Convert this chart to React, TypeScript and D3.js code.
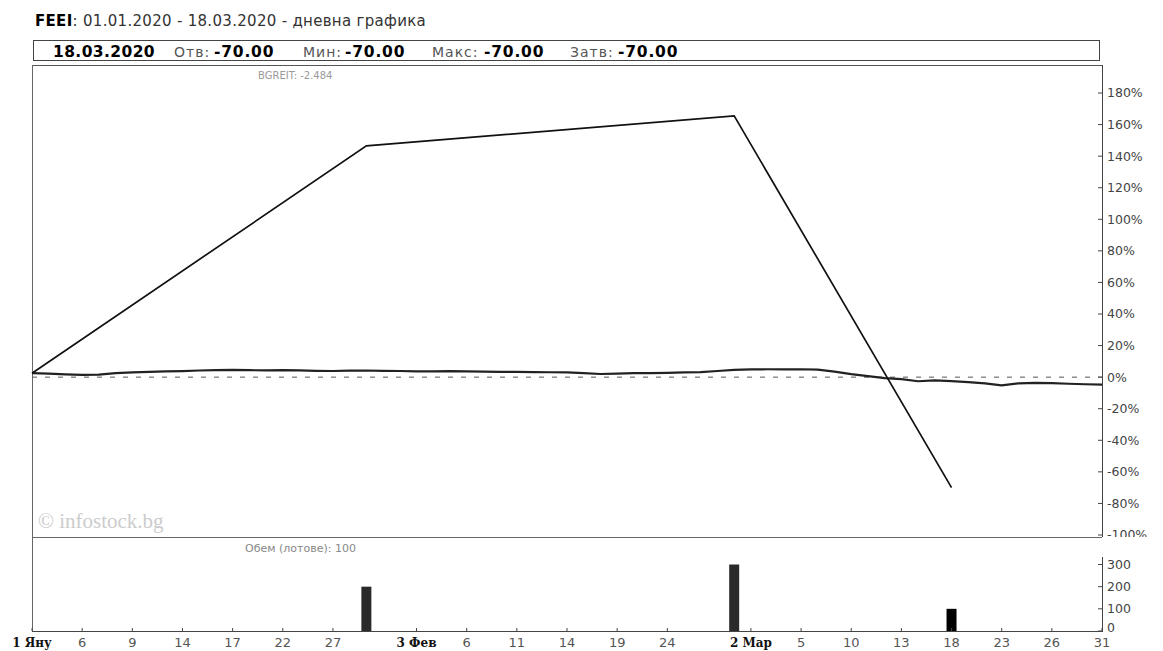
import * as d3 from 'd3';

// trading days (Jan 1 .. Mar 31 2020)
const janDays = [1, 2, 3, 6, 7, 8, 9, 10, 13, 14, 15, 16, 17, 20, 21, 22, 23, 24, 27, 28, 29, 30, 31];
const febDays = [3, 4, 5, 6, 7, 10, 11, 12, 13, 14, 17, 18, 19, 20, 21, 24, 25, 26, 27, 28];
const marDays = [2, 3, 4, 5, 6, 9, 10, 11, 12, 13, 16, 17, 18, 19, 20, 23, 24, 25, 26, 27, 30, 31];

const days: string[] = [
  ...janDays.map(d => `01-${d}`),
  ...febDays.map(d => `02-${d}`),
  ...marDays.map(d => `03-${d}`),
];

// FEEI, % change
const feeiDates = ['01-1', '01-29', '02-28', '03-18'];
const feeiValues = [2.5, 146.5, 165.5, -70];

// BGREIT index, % change (one value per trading day)
const indexValues = [
  2.5, 2.2, 1.8, 1.5, 1.6, 2.6, 3.0, 3.3, 3.6, 3.8, 4.2, 4.5, 4.6, 4.4, 4.3, 4.5, 4.3, 4.0, 3.9, 4.1,
  4.2, 4.0, 3.9, 3.7, 3.6, 3.8, 3.6, 3.5, 3.3, 3.4, 3.2, 3.1, 3.0, 2.6, 2.0, 2.2, 2.6, 2.5, 2.7, 3.0,
  3.2, 3.9, 4.6, 4.9, 5.0, 4.9, 5.0, 4.8, 3.5, 1.9, 0.6, -0.6, -1.2, -2.6, -2.0, -2.5, -3.2, -4.0, -5.2, -3.9,
  -3.6, -3.8, -4.2, -4.5, -4.7,
];

// volume (lots)
const volDates = ['01-29', '02-28', '03-18'];
const volValues = [200, 300, 100];

const tickDates = ['01-1', '01-6', '01-9', '01-14', '01-17', '01-22', '01-27', '02-3', '02-6', '02-11', '02-14', '02-19', '02-24', '03-2', '03-5', '03-10', '03-13', '03-18', '03-23', '03-26', '03-31'];
const tickLabels = ['1 Яну', '6', '9', '14', '17', '22', '27', '3 Фев', '6', '11', '14', '19', '24', '2 Мар', '5', '10', '13', '18', '23', '26', '31'];

const pctTicks = [180, 160, 140, 120, 100, 80, 60, 40, 20, 0, -20, -40, -60, -80, -100];
const volTicks = [0, 100, 200, 300];

const W = 1163;
const H = 651;
const left = 32;
const right = 1102;
const mainTop = 65;
const mainBottom = 537;
const volBottom = 631;

const sans = 'DejaVu Sans, sans-serif';

export default function App() {
  const x = d3.scalePoint<string>().domain(days).range([left, right]);
  const y = d3.scaleLinear().domain([-100, 180]).range([535, 93]);
  const yv = d3.scaleLinear().domain([0, 300]).range([volBottom, 564.5]);

  const line = d3.line<[string, number]>()
    .x(d => x(d[0]) as number)
    .y(d => y(d[1]));

  const feeiPts = feeiDates.map((d, i) => [d, feeiValues[i]] as [string, number]);
  const indexPts = days.map((d, i) => [d, indexValues[i]] as [string, number]);

  const hdr = [
    { t: '18.03.2020', x: 53, b: true },
    { t: 'Отв:', x: 174, b: false },
    { t: '-70.00', x: 214, b: true },
    { t: 'Мин:', x: 303, b: false },
    { t: '-70.00', x: 345, b: true },
    { t: 'Макс:', x: 432, b: false },
    { t: '-70.00', x: 484, b: true },
    { t: 'Затв:', x: 570, b: false },
    { t: '-70.00', x: 618, b: true },
  ];

  return (
    <svg width={W} height={H} style={{ position: 'absolute', left: 0, top: 0, background: '#fff' }}>
      <defs>
        <clipPath id="mainClip">
          <rect x={0} y={mainTop} width={W} height={mainBottom - mainTop} />
        </clipPath>
      </defs>

      {/* title */}
      <text x={35} y={26} fontFamily={sans} fontSize={15} letterSpacing={0.3} fill="#333">
        <tspan fontWeight="bold" fill="#000">FEEI</tspan>: 01.01.2020 - 18.03.2020 - дневна графика
      </text>

      {/* header box */}
      <rect x={33.5} y={40.5} width={1066} height={20} fill="none" stroke="#444" />
      {hdr.map((h, i) => (
        <text key={i} x={h.x} y={56.5} fontFamily={sans} fontSize={h.b ? 15.5 : 14}
          letterSpacing={h.b ? (i === 0 ? 0.4 : 0.8) : 1}
          fontWeight={h.b ? 'bold' : 'normal'} fill={h.b ? '#000' : '#555'}>{h.t}</text>
      ))}

      {/* frames */}
      <line x1={left} x2={right} y1={mainTop + 0.5} y2={mainTop + 0.5} stroke="#555" />
      <line x1={left + 0.5} x2={left + 0.5} y1={mainTop} y2={volBottom} stroke="#666" />
      <line x1={right + 0.5} x2={right + 0.5} y1={mainTop} y2={mainBottom} stroke="#444" />
      <line x1={left} x2={right} y1={mainBottom + 0.5} y2={mainBottom + 0.5} stroke="#666" />
      <line x1={right + 0.5} x2={right + 0.5} y1={557} y2={volBottom} stroke="#444" />
      <line x1={left} x2={right + 1} y1={volBottom + 0.5} y2={volBottom + 0.5} stroke="#444" />

      {/* labels */}
      <text x={258} y={79} fontFamily={sans} fontSize={10} fill="#999">BGREIT: -2.484</text>
      <text x={245} y={552} fontFamily={sans} fontSize={11} fill="#888">Обем (лотове): 100</text>
      <text x={38} y={528} fontFamily="Liberation Serif, serif" fontSize={21} fill="#cccccc">© infostock.bg</text>

      {/* percentage axis */}
      <g clipPath="url(#mainClip)">
        {pctTicks.map(t => (
          <g key={t}>
            <line x1={right - 4} x2={right} y1={y(t)} y2={y(t)} stroke="#444" />
            <text x={right + 5} y={y(t)} dy="0.35em" fontFamily={sans} fontSize={12.5} fill="#444">{`${t}%`}</text>
          </g>
        ))}
      </g>

      {/* zero line */}
      <line x1={left} x2={right} y1={y(0)} y2={y(0)} stroke="#555" strokeDasharray="5,8" />

      {/* series */}
      <path d={line(indexPts) ?? ''} fill="none" stroke="#222" strokeWidth={2.2} />
      <path d={line(feeiPts) ?? ''} fill="none" stroke="#111" strokeWidth={1.7} />

      {/* volume */}
      {volDates.map((d, i) => (
        <rect key={d} x={(x(d) as number) - 5} y={yv(volValues[i])} width={10}
          height={volBottom - yv(volValues[i])} fill={i === 2 ? '#000' : '#2a2a2a'} />
      ))}
      {volTicks.map(t => (
        <g key={t}>
          <line x1={right - 4} x2={right} y1={yv(t)} y2={yv(t)} stroke="#444" />
          <text x={right + 5} y={yv(t) - (t === 0 ? 3 : 0)} dy="0.35em" fontFamily={sans} fontSize={12.5} fill="#444">{t}</text>
        </g>
      ))}

      {/* x axis */}
      {tickDates.map((d, i) => {
        const px = x(d) as number;
        const bold = tickLabels[i].length > 2;
        return (
          <g key={d}>
            <line x1={px} x2={px} y1={volBottom - 3} y2={volBottom} stroke="#444" />
            <text x={px} y={647} textAnchor="middle"
              fontFamily={bold ? 'DejaVu Serif, serif' : sans}
              fontSize={bold ? 12 : 13} fontWeight={bold ? 'bold' : 'normal'}
              fill={bold ? '#111' : '#555'}>{tickLabels[i]}</text>
          </g>
        );
      })}
    </svg>
  );
}
